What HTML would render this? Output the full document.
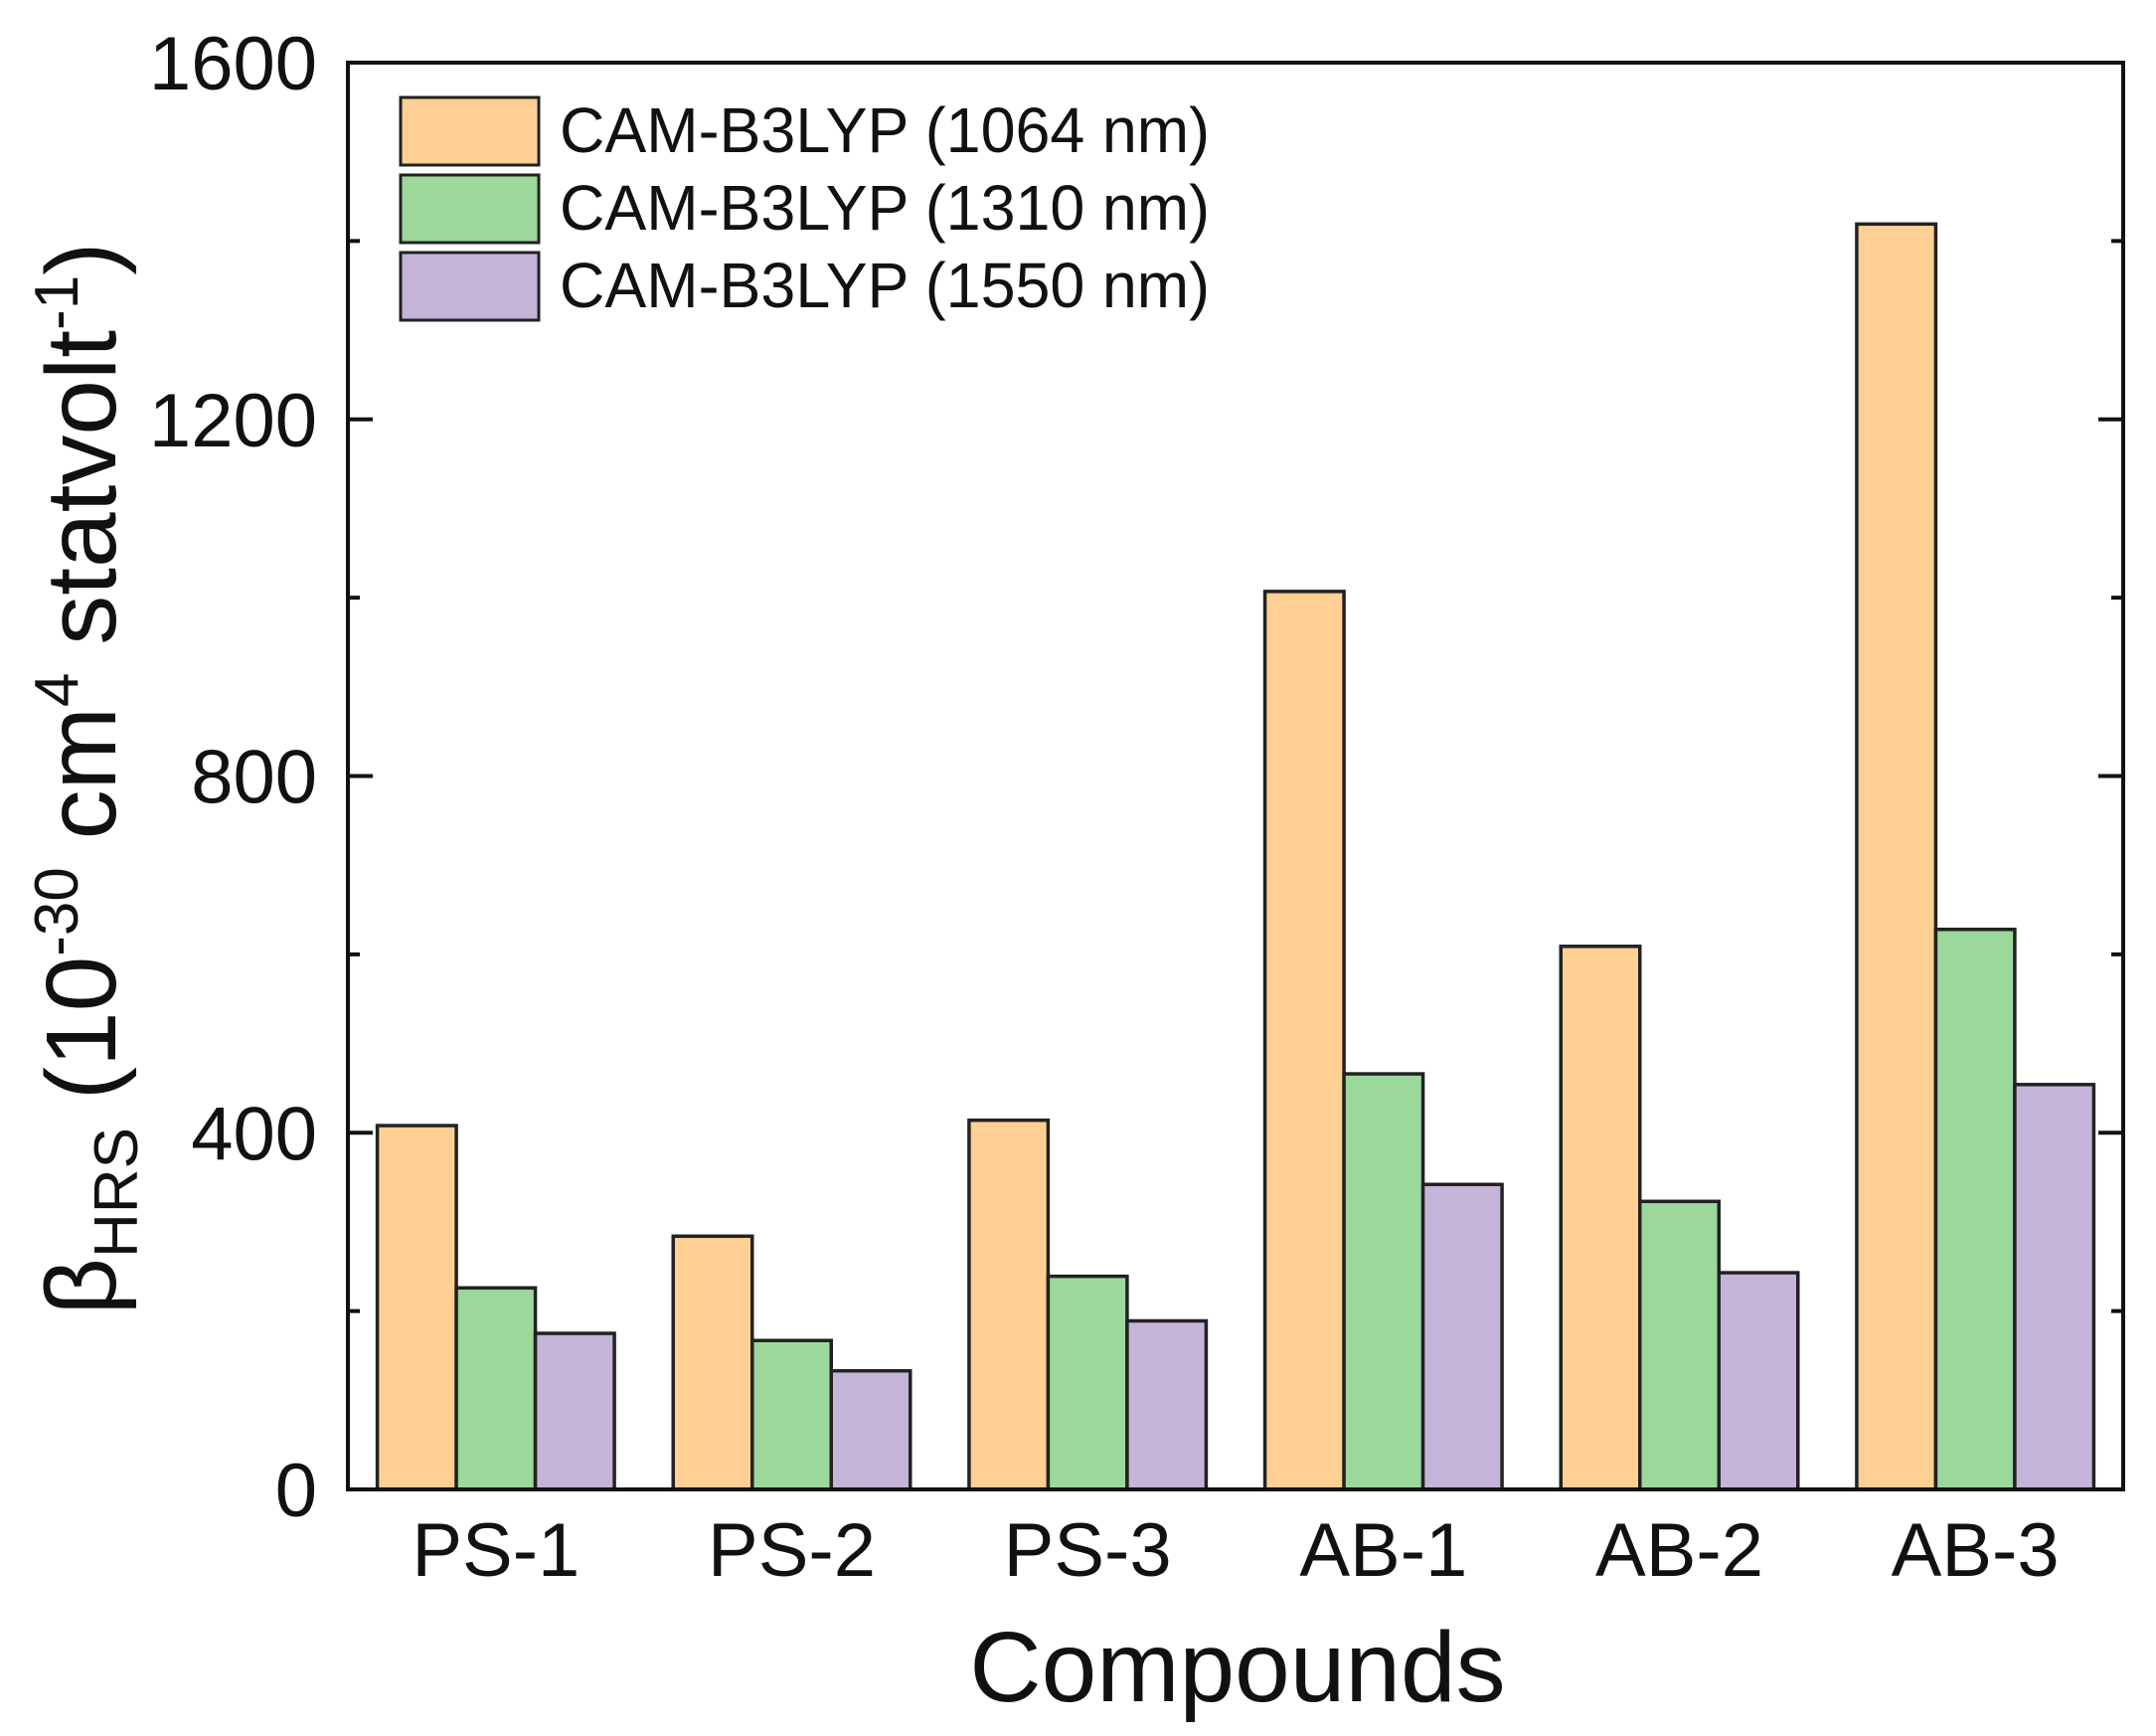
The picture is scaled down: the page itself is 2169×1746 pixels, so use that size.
<!DOCTYPE html>
<html><head><meta charset="utf-8"><style>
html,body{margin:0;padding:0;background:#fff;}
svg{display:block;font-family:"Liberation Sans",Arial,sans-serif;}
</style></head><body>
<svg id="chart" width="2169" height="1746" viewBox="0 0 2169 1746" xmlns="http://www.w3.org/2000/svg">
<g id="bars"></g>
<g id="axes"></g>
<g>
  <rect x="403" y="98" width="139" height="68" fill="#FFCF94" stroke="#222" stroke-width="3"/>
  <text x="563" y="153" font-size="64" textLength="654" lengthAdjust="spacingAndGlyphs" fill="#111">CAM-B3LYP (1064 nm)</text>
  <rect x="403" y="176" width="139" height="68" fill="#9DD89B" stroke="#222" stroke-width="3"/>
  <text x="563" y="231" font-size="64" textLength="654" lengthAdjust="spacingAndGlyphs" fill="#111">CAM-B3LYP (1310 nm)</text>
  <rect x="403" y="254" width="139" height="68" fill="#C6B4D8" stroke="#222" stroke-width="3"/>
  <text x="563" y="309" font-size="64" textLength="654" lengthAdjust="spacingAndGlyphs" fill="#111">CAM-B3LYP (1550 nm)</text>
</g>
<text x="1245" y="1711" font-size="100" text-anchor="middle" fill="#111">Compounds</text>
<text transform="translate(116,783) rotate(-90)" font-size="100" text-anchor="middle" fill="#111">β<tspan font-size="62" dy="22">HRS</tspan><tspan dy="-22"> (10</tspan><tspan font-size="62" dy="-38">-30</tspan><tspan dy="38"> cm</tspan><tspan font-size="62" dy="-38">4</tspan><tspan dy="38"> statvolt</tspan><tspan font-size="62" dy="-38">-1</tspan><tspan dy="38">)</tspan></text>
</svg>
<script>
const categories = ["PS-1","PS-2","PS-3","AB-1","AB-2","AB-3"];
const series1064 = [408,284,414,1007,609,1419];
const series1310 = [226,167,239,466,323,628];
const series1550 = [175,133,189,342,243,454];
const yTicks = [0,400,800,1200,1600];
const yMinor = [200,600,1000,1400];
const NS="http://www.w3.org/2000/svg";
const L=350,R=2136,T=63,B=1498,YMAX=1600;
const y=v=>B-(v/YMAX)*(B-T);
const slot=(R-L)/categories.length;
const bw=79.5;
const xc=i=>L+slot*(i+0.5);
function mk(tag,attrs,parent){const e=document.createElementNS(NS,tag);for(const k in attrs)e.setAttribute(k,attrs[k]);parent.appendChild(e);return e;}
const bars=document.getElementById('bars');
const axes=document.getElementById('axes');
const seriesList=[[series1064,"#FFCF94","1064"],[series1310,"#9DD89B","1310"],[series1550,"#C6B4D8","1550"]];
categories.forEach((c,i)=>{
  seriesList.forEach((s,j)=>{
    const v=s[0][i];
    const r=mk('rect',{x:xc(i)+(j-1.5)*bw,y:y(v),width:bw,height:B-y(v),fill:s[1],stroke:"#222","stroke-width":3.5},bars);
    
    
  });
  const t=mk('text',{x:xc(i),y:1585,"font-size":76,"text-anchor":"middle",fill:"#111"},axes);
  t.textContent=c;
  
  
});
const frame=mk('rect',{x:L,y:T,width:R-L,height:B-T,fill:"none",stroke:"#111","stroke-width":4},axes);


yTicks.forEach(v=>{
  const a=mk('line',{x1:L,x2:L+25,y1:y(v),y2:y(v),stroke:"#111","stroke-width":4},axes);
  
  
  const b=mk('line',{x1:R,x2:R-25,y1:y(v),y2:y(v),stroke:"#111","stroke-width":4},axes);
  
  
  const t=mk('text',{x:319,y:y(v)+27,"font-size":76,"text-anchor":"end",fill:"#111"},axes);
  t.textContent=String(v);
  
  
});
yMinor.forEach(v=>{
  const a=mk('line',{x1:L,x2:L+12,y1:y(v),y2:y(v),stroke:"#111","stroke-width":4},axes);
  
  
  const b=mk('line',{x1:R,x2:R-12,y1:y(v),y2:y(v),stroke:"#111","stroke-width":4},axes);
  
  
});
</script>
</body></html>
